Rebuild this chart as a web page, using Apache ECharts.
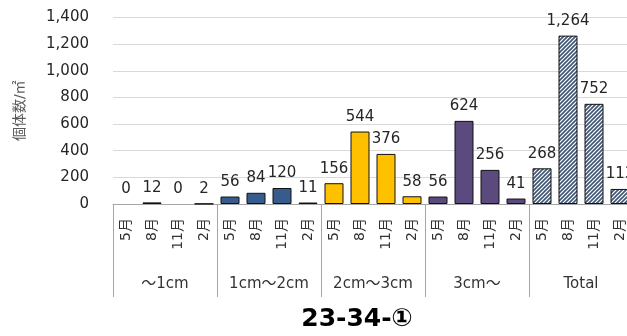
<!DOCTYPE html>
<html><head><meta charset="utf-8">
<script src="https://cdn.jsdelivr.net/npm/echarts@6/dist/echarts.min.js"></script>
<style>html,body{margin:0;padding:0;background:#fff;overflow:hidden}#c{width:627px;height:336px}</style>
</head><body><div id="c"></div>
<script>
const months = ['5月','8月','11月','2月'];
const groups = ['～1cm','1cm～2cm','2cm～3cm','3cm～','Total'];
const v1 = [0, 12, 0, 2];
const v2 = [56, 84, 120, 11];
const v3 = [156, 544, 376, 58];
const v4 = [56, 624, 256, 41];
const vTotal = [268, 1264, 752, 113];
const yTicks = [0, 200, 400, 600, 800, 1000, 1200, 1400];
const title = '23-34-①';
const yName = '個体数/㎡';

const FONT = "'DejaVu Sans','Noto Sans CJK JP',sans-serif";
const colors = ['#2d4a22', '#365c8d', '#ffc000', '#5b4a7d', null];

function hatch() {
  const s = 4, c = document.createElement('canvas');
  c.width = s; c.height = s;
  const g = c.getContext('2d');
  g.fillStyle = '#ffffff'; g.fillRect(0, 0, s, s);
  g.strokeStyle = '#3f5573'; g.lineWidth = 1.6;
  g.beginPath();
  g.moveTo(-1, s + 1); g.lineTo(s + 1, -1);
  g.moveTo(-1, 1); g.lineTo(1, -1);
  g.moveTo(s - 1, s + 1); g.lineTo(s + 1, s - 1);
  g.stroke();
  return c;
}

const cats = [];
groups.forEach(() => months.forEach(m => cats.push(m)));
const allVals = [v1, v2, v3, v4, vTotal];

const series = allVals.map((vals, gi) => {
  const data = cats.map(() => '-');
  vals.forEach((v, i) => {
    data[gi * 4 + i] = v === 0 ? { value: v, itemStyle: { borderWidth: 0 } } : v;
  });
  return {
    type: 'bar', stack: 'all', data: data, barWidth: 19,
    itemStyle: {
      color: gi === 4 ? { image: hatch(), repeat: 'repeat' } : colors[gi],
      borderColor: '#111', borderWidth: 1
    },
    label: {
      show: true, position: 'top', distance: 7, color: '#262626',
      fontFamily: FONT, fontSize: 15,
      formatter: p => Number(p.value).toLocaleString('en-US')
    }
  };
});

const chart = echarts.init(document.getElementById('c'), null, { renderer: 'canvas' });
chart.setOption({
  animation: false,
  backgroundColor: '#fff',
  grid: { left: 113, width: 520, top: 17.5, bottom: 132, containLabel: false, outerBoundsMode: 'none' },
  xAxis: [
    {
      type: 'category', data: cats, position: 'bottom',
      axisLine: { show: true, lineStyle: { color: '#a6a6a6', width: 1 } },
      axisTick: { show: false },
      axisLabel: { rotate: 90, interval: 0, margin: 14, fontSize: 14, color: '#333', fontFamily: FONT }
    },
    {
      type: 'category', data: groups, position: 'bottom', offset: 93,
      axisLine: { show: false },
      axisTick: { show: true, inside: true, length: 93, interval: 0, lineStyle: { color: '#a6a6a6', width: 1 } },
      axisLabel: { inside: true, margin: 5, interval: 0, fontSize: 15, color: '#333', fontFamily: FONT, verticalAlign: 'bottom' }
    }
  ],
  yAxis: {
    type: 'value', min: 0, max: 1400, interval: 200,
    name: yName, nameLocation: 'middle', nameRotate: 90, nameGap: 86,
    nameTextStyle: { fontSize: 14, color: '#595959', fontFamily: FONT },
    axisLine: { show: false }, axisTick: { show: false },
    axisLabel: { margin: 24, fontSize: 15, color: '#262626', fontFamily: FONT,
      formatter: v => yTicks.includes(v) ? v.toLocaleString('en-US') : '' },
    splitLine: { lineStyle: { color: '#d9d9d9', width: 1 } }
  },
  series: series,
  graphic: [{
    type: 'text', x: 357, y: 319,
    style: { text: title, font: "bold 25px " + FONT, fill: '#000', textAlign: 'center', textVerticalAlign: 'middle' }
  }]
});
</script></body></html>
